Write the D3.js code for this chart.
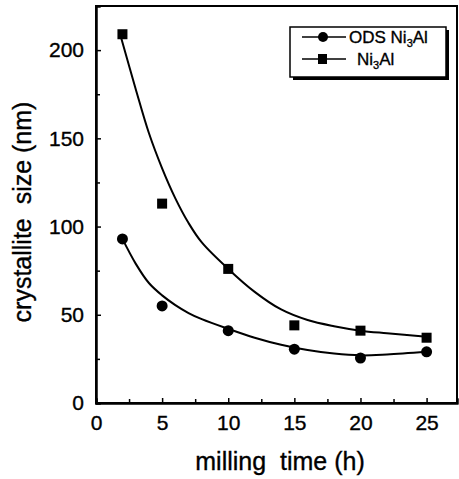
<!DOCTYPE html>
<html>
<head>
<meta charset="utf-8">
<script src="https://cdn.jsdelivr.net/npm/d3@7"></script>
<style>
  body { margin: 0; background: #fff; }
  text { font-family: "Liberation Sans", Arial, sans-serif; fill: #000; stroke: #000; stroke-width: 0.35px; }
</style>
</head>
<body>
<div id="chart"></div>
<script>
(function() {

    var w = 459;
    var h = 479;

    // milling time (h)
    var times = [2, 5, 10, 15, 20, 25];
    // crystallite size (nm)
    var odsNi3Al = [93, 55, 41, 30.5, 25.5, 29];
    var ni3Al = [209, 113, 76, 44, 41, 37];

    // fitted curves
    var fitOdsX = [2, 3, 4, 5, 6, 7, 8, 10, 12, 14, 16, 18, 20, 22, 25];
    var fitOdsY = [93, 79, 68, 61, 55.5, 51, 47.5, 42, 37, 33, 30, 28, 27, 27.5, 29];
    var fitNiX = [1.9, 3, 4, 5, 6, 7, 8, 10, 12, 14, 16, 18, 20, 22, 25];
    var fitNiY = [207, 178, 153, 133, 116, 102, 91, 76, 63, 53, 47, 43.5, 41, 39.5, 37.5];

    var xTicks = [0, 5, 10, 15, 20, 25];
    var xMinor = [2.5, 7.5, 12.5, 17.5, 22.5];
    var yTicks = [0, 50, 100, 150, 200];
    var yMinor = [25, 75, 125, 175];

    var left = 96, right = 457, top = 6, bottom = 403;

    var x = d3.scaleLinear().domain([0, 27.3]).range([left, right]);
    var y = d3.scaleLinear().domain([0, 225]).range([bottom, top]);

    var svg = d3.select("#chart")
        .append("svg")
        .attr("width", w)
        .attr("height", h);

    // frame
    svg.append("rect")
        .attr("x", left)
        .attr("y", top)
        .attr("width", right - left)
        .attr("height", bottom - top)
        .attr("fill", "none")
        .attr("stroke", "#000")
        .attr("stroke-width", 2);

    // axes, ticks pointing inward
    svg.append("g")
        .attr("transform", "translate(0," + bottom + ")")
        .call(d3.axisBottom(x).tickValues(xTicks).tickSize(-5).tickPadding(12).tickFormat(d3.format("d")));
    svg.append("g")
        .attr("transform", "translate(0," + bottom + ")")
        .call(d3.axisBottom(x).tickValues(xMinor).tickSize(-4).tickFormat(""));

    svg.append("g")
        .attr("transform", "translate(" + left + ",0)")
        .call(d3.axisLeft(y).tickValues(yTicks).tickSize(-5).tickPadding(12).tickFormat(d3.format("d")));
    svg.append("g")
        .attr("transform", "translate(" + left + ",0)")
        .call(d3.axisLeft(y).tickValues(yMinor).tickSize(-4).tickFormat(""));

    svg.selectAll(".domain").attr("stroke", "#000").attr("stroke-width", 2);
    svg.selectAll(".tick line").attr("stroke", "#000").attr("stroke-width", 1.5);
    svg.selectAll(".tick text")
        .attr("font-size", 21)
        .attr("font-family", "Liberation Sans, Arial, sans-serif")
        .attr("fill", "#000");

    // axis titles
    svg.append("text")
        .attr("x", 280)
        .attr("y", 470)
        .attr("text-anchor", "middle")
        .attr("font-size", 25)
        .attr("xml:space", "preserve")
        .text("milling  time (h)");

    svg.append("text")
        .attr("transform", "translate(31,212) rotate(-90)")
        .attr("text-anchor", "middle")
        .attr("font-size", 25)
        .attr("xml:space", "preserve")
        .text("crystallite  size (nm)");

    // fitted curves
    var line = d3.line()
        .x(function(d) { return x(d[0]); })
        .y(function(d) { return y(d[1]); })
        .curve(d3.curveCatmullRom);

    var fits = [d3.zip(fitOdsX, fitOdsY), d3.zip(fitNiX, fitNiY)];
    svg.selectAll(".fit")
        .data(fits)
        .enter()
        .append("path")
        .attr("class", "fit")
        .attr("d", line)
        .attr("fill", "none")
        .attr("stroke", "#000")
        .attr("stroke-width", 2);

    // markers
    svg.selectAll(".ods")
        .data(d3.zip(times, odsNi3Al))
        .enter()
        .append("circle")
        .attr("cx", function(d) { return x(d[0]); })
        .attr("cy", function(d) { return y(d[1]); })
        .attr("r", 5.5)
        .attr("fill", "#000");

    svg.selectAll(".ni")
        .data(d3.zip(times, ni3Al))
        .enter()
        .append("rect")
        .attr("x", function(d) { return x(d[0]) - 5; })
        .attr("y", function(d) { return y(d[1]) - 5; })
        .attr("width", 10)
        .attr("height", 10)
        .attr("fill", "#000");

    // legend with drop shadow
    var lg = svg.append("g");
    lg.append("rect")
        .attr("x", 293).attr("y", 30)
        .attr("width", 156).attr("height", 50)
        .attr("fill", "#000");
    lg.append("rect")
        .attr("x", 290).attr("y", 27)
        .attr("width", 156).attr("height", 50)
        .attr("fill", "#fff")
        .attr("stroke", "#000")
        .attr("stroke-width", 1.5);

    var entries = [{ name: "ODS Ni", shape: "circle", ty: 37, tx: 349 },
                   { name: "Ni", shape: "square", ty: 59, tx: 357 }];

    entries.forEach(function(e) {
        lg.append("line")
            .attr("x1", 302).attr("x2", 346)
            .attr("y1", e.ty).attr("y2", e.ty)
            .attr("stroke", "#000")
            .attr("stroke-width", 1.5);
        if (e.shape === "circle") {
            lg.append("circle").attr("cx", 323).attr("cy", e.ty).attr("r", 5).attr("fill", "#000");
        } else {
            lg.append("rect").attr("x", 318).attr("y", e.ty - 5).attr("width", 9).attr("height", 10).attr("fill", "#000");
        }
        var t = lg.append("text")
            .attr("x", e.tx)
            .attr("y", e.ty + 6)
            .attr("font-size", 17);
        t.append("tspan").text(e.name);
        t.append("tspan").attr("font-size", 11).attr("dy", 4).text("3");
        t.append("tspan").attr("dy", -4).text("Al");
    });

})();
</script>
</body>
</html>
